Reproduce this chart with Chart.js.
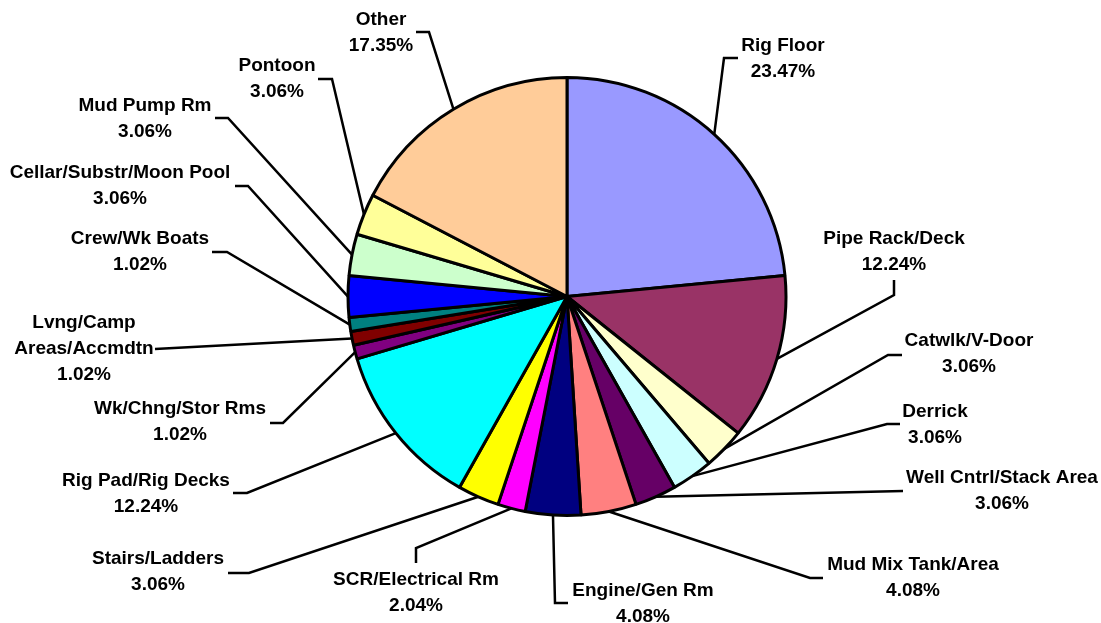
<!DOCTYPE html>
<html>
<head>
<meta charset="utf-8">
<title>Pie chart</title>
<script src="https://cdn.jsdelivr.net/npm/chart.js@4"></script>
<style>
  html, body { margin: 0; padding: 0; background: #fff; }
  #wrap { width: 1101px; height: 623px; position: relative; }
</style>
</head>
<body>
<div id="wrap"><canvas id="grafico"></canvas></div>
<script>
// dados
const categorias = [
    'Rig Floor', 'Pipe Rack/Deck', 'Catwlk/V-Door', 'Derrick', 'Well Cntrl/Stack Area',
    'Mud Mix Tank/Area', 'Engine/Gen Rm', 'SCR/Electrical Rm', 'Stairs/Ladders',
    'Rig Pad/Rig Decks', 'Wk/Chng/Stor Rms', ['Lvng/Camp', 'Areas/Accmdtn'],
    'Crew/Wk Boats', 'Cellar/Substr/Moon Pool', 'Mud Pump Rm', 'Pontoon', 'Other'
];
const percentuais = [23.47, 12.24, 3.06, 3.06, 3.06, 4.08, 4.08, 2.04, 3.06,
    12.24, 1.02, 1.02, 1.02, 3.06, 3.06, 3.06, 17.35];
const cores = ['#9999FF', '#993366', '#FFFFCC', '#CCFFFF', '#660066', '#FF8080', '#000080',
    '#FF00FF', '#FFFF00', '#00FFFF', '#800080', '#800000', '#008080', '#0000FF',
    '#CCFFCC', '#FFFF99', '#FFCC99'];

// posição dos rótulos: centro do texto (primeira linha) e pontos da linha guia
const rotulos = [
    { x: 783, y: 46, guia: [[724, 58], [738, 58]] },
    { x: 894, y: 239, guia: [[894, 295], [894, 280]] },
    { x: 969, y: 341, guia: [[888, 355], [902, 355]] },
    { x: 935, y: 412, guia: [[887, 424], [900, 424]] },
    { x: 1002, y: 478, guia: [[903, 491]] },
    { x: 913, y: 565, guia: [[810, 578], [823, 578]] },
    { x: 643, y: 591, guia: [[555, 603], [568, 603]] },
    { x: 416, y: 580, guia: [[416, 548], [416, 563]] },
    { x: 158, y: 559, guia: [[249, 573], [228, 573]] },
    { x: 146, y: 481, guia: [[247, 493], [233, 493]] },
    { x: 180, y: 409, guia: [[283, 423], [270, 423]] },
    { x: 84, y: 323, guia: [[155, 349]] },
    { x: 140, y: 239, guia: [[227, 252], [212, 252]] },
    { x: 120, y: 173, guia: [[248, 186], [235, 186]] },
    { x: 145, y: 106, guia: [[228, 118], [215, 118]] },
    { x: 277, y: 66, guia: [[332, 79], [318, 79]] },
    { x: 381, y: 20, guia: [[429, 32], [416, 32]] }
];

const rotulosExternos = {
    id: 'rotulosExternos',
    afterDatasetsDraw(chart) {
        const ctx = chart.ctx;
        const meta = chart.getDatasetMeta(0);
        ctx.save();
        ctx.strokeStyle = '#000';
        ctx.lineWidth = 2.5;
        ctx.lineJoin = 'miter';
        meta.data.forEach((arc, i) => {
            const p = arc.getProps(['x', 'y', 'startAngle', 'endAngle', 'outerRadius'], true);
            const meio = (p.startAngle + p.endAngle) / 2;
            const r = rotulos[i];
            ctx.beginPath();
            ctx.moveTo(p.x + Math.cos(meio) * p.outerRadius, p.y + Math.sin(meio) * p.outerRadius);
            r.guia.forEach(pt => ctx.lineTo(pt[0], pt[1]));
            ctx.stroke();

            const nome = categorias[i];
            const linhas = (Array.isArray(nome) ? nome : [nome]).concat([percentuais[i].toFixed(2) + '%']);
            ctx.fillStyle = '#000';
            ctx.font = 'bold 19px "Liberation Sans", Arial, sans-serif';
            ctx.textAlign = 'center';
            ctx.textBaseline = 'middle';
            linhas.forEach((t, k) => ctx.fillText(t, r.x, r.y + k * 26));
        });
        ctx.restore();
    }
};

new Chart(document.getElementById('grafico'), {
    type: 'pie',
    data: {
        labels: categorias,
        datasets: [{
            data: percentuais,
            backgroundColor: cores,
            borderColor: '#000',
            borderWidth: 3
        }]
    },
    options: {
        responsive: true,
        maintainAspectRatio: false,
        animation: false,
        layout: { padding: { top: 76, bottom: 106, left: 33, right: 0 } },
        plugins: {
            legend: { display: false },
            tooltip: { enabled: false }
        }
    },
    plugins: [rotulosExternos]
});
</script>
</body>
</html>
